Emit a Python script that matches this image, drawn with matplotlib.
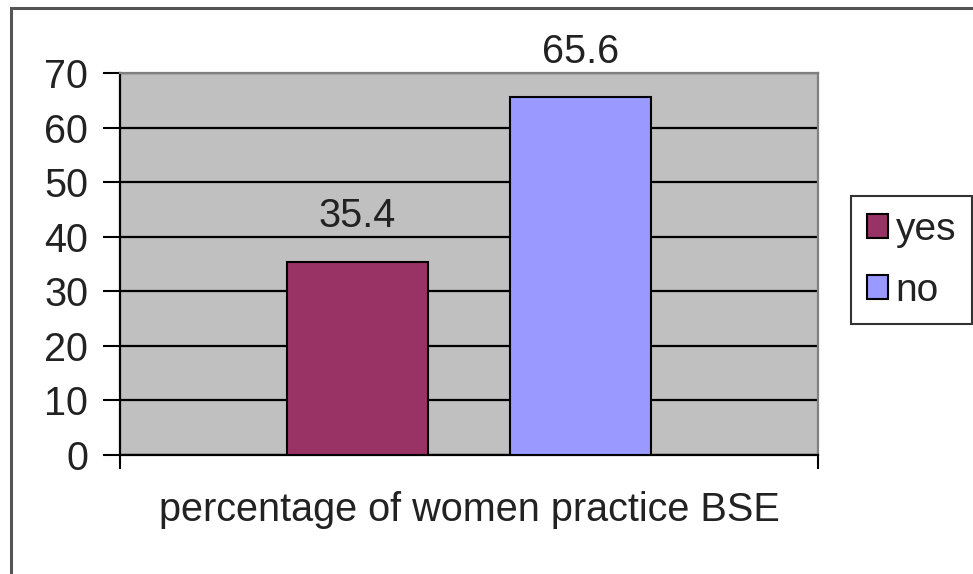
import matplotlib
matplotlib.use("Agg")
import matplotlib.pyplot as plt
from matplotlib.patches import Rectangle, Patch

categories = ["percentage of women practice BSE"]
series_names = ["yes", "no"]
values = [35.4, 65.6]
colors = ["#993366", "#9999FF"]
yticks = [0, 10, 20, 30, 40, 50, 60, 70]

plt.rcParams['font.family'] = ['Liberation Sans', 'DejaVu Sans']
FS = 28.5

fig = plt.figure(figsize=(9.73, 5.74), dpi=100)
fig.patch.set_facecolor("white")

# outer chart border
fig.patches.append(Rectangle((11/973, -0.05), 1.1, 1 - 8/574 + 0.05,
                             transform=fig.transFigure, fill=False,
                             edgecolor="#555555", linewidth=2.2, zorder=0))

ax = fig.add_axes([120/973, 1 - 455/574, 698/973, (455 - 73)/574])
ax.set_facecolor("#C0C0C0")

offsets = [-0.16, 0.16]
width = 0.202
for name, v, c, off in zip(series_names, values, colors, offsets):
    ax.bar(off, v, width=width, color=c, edgecolor="black", linewidth=1.5, zorder=3)
    ax.annotate(f"{v}", (off, v), xytext=(0, 19), textcoords="offset points",
                ha="center", va="bottom", fontsize=FS, color="#222222")

ax.set_xlim(-0.5, 0.5)
ax.set_ylim(0, 70)
ax.set_yticks(yticks)
ax.set_yticklabels([str(t) for t in yticks], fontsize=FS, color="#222222")
ax.yaxis.grid(True, color="black", linewidth=1.6, zorder=1)
ax.set_axisbelow(True)
ax.tick_params(axis="y", length=12, width=1.5, pad=11, direction="out")
ax.set_xticks([-0.5, 0.5])
ax.set_xticklabels(["", ""])
ax.tick_params(axis="x", length=10, width=1.5, direction="out")

for s in ["left", "bottom"]:
    ax.spines[s].set_color("black")
    ax.spines[s].set_linewidth(1.6)
for s in ["top", "right"]:
    ax.spines[s].set_color("#808080")
    ax.spines[s].set_linewidth(1.6)

fig.text(469/973, 1 - 510/574, categories[0], ha="center", va="center",
         fontsize=FS, color="#222222")

handles = [Patch(facecolor=c, edgecolor="black", linewidth=1.5) for c in colors]
leg = fig.legend(handles, series_names, loc="upper left",
                 bbox_to_anchor=(851/973, 1 - 196/574), fontsize=28,
                 frameon=True, fancybox=False, edgecolor="black",
                 handlelength=0.55, handleheight=0.55, handletextpad=0.2,
                 labelspacing=0.65, borderpad=0.4, borderaxespad=0)
leg.get_frame().set_linewidth(1.5)
for t in leg.get_texts():
    t.set_color("#222222")

fig.savefig("out.png", dpi=100)
